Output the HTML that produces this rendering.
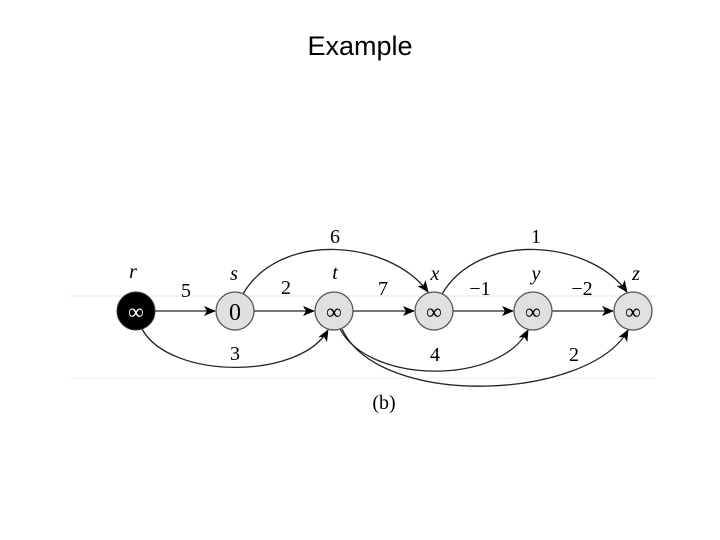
<!DOCTYPE html>
<html><head><style>body{margin:0;background:#fff;}svg{display:block}</style></head>
<body>
<svg width="720" height="540" xmlns="http://www.w3.org/2000/svg">
<defs><marker id="a" markerWidth="12" markerHeight="10" refX="11" refY="5" orient="auto" markerUnits="userSpaceOnUse"><path d="M0,0 L12,5 L0,10 L3,5 z" fill="#000"/></marker></defs>
<text x="360" y="55" text-anchor="middle" font-family="Liberation Sans, sans-serif" font-size="27">Example</text>
<line x1="70" y1="296" x2="655" y2="296" stroke="#e6e6e6"/>
<line x1="70" y1="378" x2="655" y2="378" stroke="#ececec"/>
<g stroke="#222" stroke-width="1.3" fill="none" marker-end="url(#a)">
<line x1="155" y1="311" x2="215" y2="311"/>
<line x1="254" y1="311" x2="314" y2="311"/>
<line x1="353" y1="311" x2="414" y2="311"/>
<line x1="453" y1="311" x2="513" y2="311"/>
<line x1="552" y1="311" x2="613" y2="311"/>
<path d="M243,294 C280,230 390,240 428,292"/>
<path d="M442,294 C480,230 590,240 627,292"/>
<path d="M142,329 C170,380 300,380 328,330"/>
<path d="M340,329 C370,385 500,385 528,330"/>
<path d="M342,329 C380,410 590,400 628,330"/>
</g>
<circle cx="136" cy="311" r="19" fill="#000" stroke="#333"/>
<g fill="#e0e0e0" stroke="#555" stroke-width="1.3">
<circle cx="235" cy="311" r="19"/><circle cx="334" cy="311" r="19"/><circle cx="434" cy="311" r="19"/><circle cx="533" cy="311" r="19"/><circle cx="633" cy="311" r="19"/>
</g>
<g font-family="Liberation Serif, serif" font-size="22" text-anchor="middle">
<text x="136" y="319" fill="#fff">∞</text>
<text x="235" y="320" font-size="24">0</text>
<text x="334" y="319">∞</text><text x="434" y="319">∞</text><text x="533" y="319">∞</text><text x="633" y="319">∞</text>
</g>
<g font-family="Liberation Serif, serif" font-size="20" font-style="italic" text-anchor="middle">
<text x="133" y="278">r</text><text x="234" y="280">s</text><text x="335" y="279">t</text><text x="435" y="280">x</text><text x="536" y="280">y</text><text x="636" y="280">z</text>
</g>
<g font-family="Liberation Serif, serif" font-size="20" text-anchor="middle">
<text x="186" y="297">5</text><text x="286" y="294">2</text><text x="383" y="295">7</text>
<text x="480" y="295">−1</text><text x="582" y="295">−2</text>
<text x="335" y="243">6</text><text x="536" y="243">1</text>
<text x="235" y="360">3</text><text x="435" y="361">4</text><text x="574" y="361">2</text>
<text x="384" y="409">(b)</text>
</g>
</svg>
</body></html>
